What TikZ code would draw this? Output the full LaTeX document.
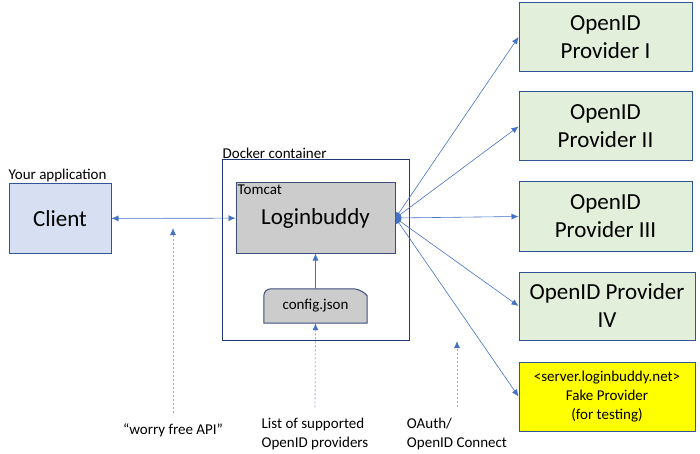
\documentclass[tikz,border=0pt]{standalone}
\usepackage{fontspec}
\setmainfont{Carlito}
\usetikzlibrary{arrows.meta,backgrounds}
\definecolor{linkblue}{HTML}{4472C4}
\definecolor{hintblue}{HTML}{8FAADC}
\definecolor{frameblue}{HTML}{2F5597}
\definecolor{navy}{HTML}{203A78}
\definecolor{slate}{HTML}{3C4E78}
\definecolor{clientfill}{HTML}{D6E0F2}
\definecolor{providerfill}{HTML}{E2EFDA}
\definecolor{boxgray}{HTML}{CCCCCC}
\definecolor{fakeyellow}{HTML}{FFFF00}
\newcommand{\bigtext}{\fontsize{23}{28}\selectfont}
\newcommand{\smalltext}{\fontsize{15}{19}\selectfont}
\tikzstyle{block} = [rectangle, draw=frameblue, line width=1pt, inner sep=0pt,
    text centered, font=\bigtext]
\tikzstyle{provider} = [block, fill=providerfill, align=center,
    minimum width=173pt, minimum height=69pt]
\tikzstyle{line} = [draw=linkblue, line width=0.6pt, ->]
\tikzstyle{hint} = [draw=hintblue, line width=0.8pt, dash pattern=on 2pt off 2pt,
    -{Latex[length=7pt,width=6pt,color=linkblue]}, shorten <=9pt]
\tikzstyle{caption} = [font=\smalltext, inner sep=1pt]

\begin{document}
\begin{tikzpicture}[x=1pt, y=-1pt, >={Latex[length=7pt,width=6pt]}]
    \useasboundingbox (0,0) rectangle (700,454);
    % Place nodes
    \node [block, fill=clientfill, minimum width=102pt, minimum height=69pt] (client) at (60,218.5) {Client};
    \node [caption, anchor=south west, xshift=-1pt] (app) at (client.north west) {Your application};
    \node [draw=navy, line width=1pt, minimum width=187pt, minimum height=180pt] (docker) at (315.5,250) {};
    \node [caption, anchor=south west] (dockerlabel) at (docker.north west) {Docker container};
    \node [block, draw=slate, fill=boxgray, minimum width=159pt, minimum height=70pt] (lb) at (315.5,218) {Loginbuddy};
    \node [caption, anchor=north west, inner sep=2pt] (tomcat) at (lb.north west) {Tomcat};
    \node [font=\smalltext, minimum width=103pt, minimum height=34pt, inner sep=0pt] (cfg) at (315.5,306) {config.json};

    \node [provider] (p1) at (605.5,37) {OpenID\\Provider I};
    \node [provider] (p2) at (605.5,126.5) {OpenID\\Provider II};
    \node [provider] (p3) at (605.5,216.5) {OpenID\\Provider III};
    \node [provider, minimum width=176pt, minimum height=68pt] (p4) at (607,306) {OpenID Provider\\IV};
    \node [provider, fill=fakeyellow, font=\smalltext, minimum width=176pt] (fake) at (607,396.5)
        {<server.loginbuddy.net>\\Fake Provider\\(for testing)};

    \node [caption] (api) at (173,430) {“worry free API”};
    \node [caption, align=left] (list) at (315,433.5) {List of supported\\OpenID providers};
    \node [caption, align=left] (oauth) at (457,433.5) {OAuth/\\OpenID Connect};
    \coordinate (apitip) at (173,228);
    \coordinate (oauthtip) at (457,341);

    % config.json outline
    \begin{scope}[on background layer]
        \draw [draw=slate, fill=boxgray, line width=1pt] (cfg.south west) [rounded corners=7pt] -- (cfg.north west)
            -- ([xshift=-7pt]cfg.north east) [sharp corners] -- ([yshift=-7pt]cfg.north east) -- (cfg.south east) -- cycle;
    \end{scope}

    % Draw edges
    \path [line, <->] (client) -- (lb);
    \path [line] (cfg) -- (lb);
    \foreach \p in {p1,p2,p3,p4,fake}
        \path [line] (lb.east) -- (\p.west);
    \fill [linkblue] (lb.east) ++(0,-6) arc [start angle=-90, end angle=90, radius=6];

    \path [hint] (api.north) -- (apitip);
    \path [hint] (list.north) -- (cfg.south);
    \path [hint] (oauth.north) -- (oauthtip);
\end{tikzpicture}
\end{document}
